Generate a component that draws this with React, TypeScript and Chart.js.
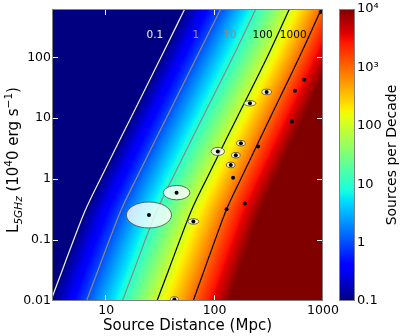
import React, { useEffect, useRef } from "react";
import { Chart, registerables } from "chart.js";

Chart.register(...registerables);

// ---------- axis ranges & ticks ----------
const xMin = 3.1623;
const xMax = 1000;
const yMin = 0.01;
const yMax = 620;
const cbMin = 0.1;
const cbMax = 10000;

const xTickValues = [10, 100, 1000];
const xTickLabels = ["10", "100", "1000"];
const yTickValues = [0.01, 0.1, 1, 10, 100];
const yTickLabels = ["0.01", "0.1", "1", "10", "100"];
const cbTickValues = [0.1, 1, 10, 100, 1000, 10000];
const cbTickLabels = ["0.1", "1", "10", "100", "10³", "10⁴"];

// ---------- contours (sources per decade) ----------
const contourLevels = [0.1, 1, 10, 100, 1000];
const contourLabels = ["0.1", "1", "10", "100", "1000"];
const contourLum = [0.01, 0.03, 0.1, 0.3, 1, 10, 100, 620];
const contourDist01 = [3.08, 3.88, 5.0, 6.37, 8.81, 16.8, 32.0, 53];
const contourDist1 = [6.58, 8.28, 10.7, 13.6, 18.8, 35.8, 68.2, 114];
const contourDist10 = [14.1, 17.8, 22.9, 29.2, 40.4, 76.9, 147, 240];
const contourDist100 = [29.4, 37.1, 47.8, 60.8, 84.1, 160, 305, 490];
const contourDist1000 = [63.4, 79.1, 101, 127, 174, 324, 604, 966];
const labelDist = [28.1, 67.2, 138, 277, 531];
const labelLum = [233, 233, 233, 233, 233];

// ---------- sources ----------
const srcDist = [24.8, 44.6, 63.7, 42.6, 107, 212, 302, 175, 157, 141, 148, 671, 551, 516, 252, 190, 129, 951];
const srcLum = [0.258, 0.6, 0.202, 0.0106, 2.85, 17.6, 27, 3.89, 2.47, 1.71, 1.05, 42.6, 28.1, 8.8, 3.42, 0.4, 0.32, 556];
const srcErrDistDex = [0.208, 0.123, 0.05, 0.037, 0.062, 0.055, 0.045, 0.04, 0.04, 0.04, 0, 0, 0, 0, 0, 0, 0, 0];
const srcErrLumDex = [0.213, 0.118, 0.045, 0.045, 0.066, 0.044, 0.045, 0.045, 0.045, 0.045, 0, 0, 0, 0, 0, 0, 0, 0];

const contourDists = [contourDist01, contourDist1, contourDist10, contourDist100, contourDist1000];
const contourColors = ["#f2f2f2", "#8a8a8a", "#8a8a8a", "#000000", "#000000"];
const labelColors = ["#f2f2f2", "#999999", "#8a8a8a", "#000000", "#000000"];

const FONT = "'DejaVu Sans', sans-serif";

// ---------- jet colormap ----------
const jetR = [[0, 0], [0.35, 0], [0.66, 1], [0.89, 1], [1, 0.5]];
const jetG = [[0, 0], [0.125, 0], [0.375, 1], [0.64, 1], [0.91, 0], [1, 0]];
const jetB = [[0, 0.5], [0.11, 1], [0.34, 1], [0.65, 0], [1, 0]];
function seg(pts: number[][], t: number) {
  for (let i = 0; i < pts.length - 1; i++) {
    if (t <= pts[i + 1][0]) {
      const [x0, y0] = pts[i];
      const [x1, y1] = pts[i + 1];
      return y0 + ((y1 - y0) * (t - x0)) / (x1 - x0);
    }
  }
  return pts[pts.length - 1][1];
}
function jet(t: number): [number, number, number] {
  const c = Math.max(0, Math.min(1, t));
  return [Math.round(seg(jetR, c) * 255), Math.round(seg(jetG, c) * 255), Math.round(seg(jetB, c) * 255)];
}

function interpLine(xs: number[], ys: number[], x: number) {
  const n = xs.length;
  const asc = xs[n - 1] > xs[0];
  let k = 0;
  for (k = 0; k < n - 2; k++) {
    if (asc ? x <= xs[k + 1] : x >= xs[k + 1]) break;
  }
  const t = (x - xs[k]) / (xs[k + 1] - xs[k]);
  return ys[k] + t * (ys[k + 1] - ys[k]);
}

// ---------- plugins ----------
const heatPlugin = {
  id: "heat",
  beforeDatasetsDraw(chart: any) {
    const { ctx, chartArea, scales } = chart;
    const xs = scales.x;
    const ys = scales.y;
    const left = Math.round(chartArea.left);
    const top = Math.round(chartArea.top);
    const w = Math.round(chartArea.right) - left;
    const h = Math.round(chartArea.bottom) - top;
    const img = ctx.createImageData(w, h);
    const logLum = contourLum.map(Math.log10);
    const curves = contourDists.map((a) => a.map(Math.log10));
    const lev = contourLevels.map(Math.log10);
    const colLogD: number[] = [];
    for (let i = 0; i < w; i++) colLogD.push(Math.log10(xs.getValueForPixel(left + i + 0.5)));
    for (let j = 0; j < h; j++) {
      const ll = Math.log10(ys.getValueForPixel(top + j + 0.5));
      const cross = curves.map((c) => interpLine(logLum, c, ll));
      for (let i = 0; i < w; i++) {
        const v = interpLine(cross, lev, colLogD[i]);
        const t = (v - Math.log10(cbMin)) / (Math.log10(cbMax) - Math.log10(cbMin));
        const [r, g, b] = jet(t);
        const p = (j * w + i) * 4;
        img.data[p] = r;
        img.data[p + 1] = g;
        img.data[p + 2] = b;
        img.data[p + 3] = 255;
      }
    }
    ctx.putImageData(img, left, top);
  },
  afterDatasetDraw(chart: any, args: any) {
    if (args.index !== 1) return;
    const { ctx, chartArea, scales } = chart;
    const xs = scales.x;
    const ys = scales.y;
    ctx.save();
    ctx.beginPath();
    ctx.rect(chartArea.left, chartArea.top, chartArea.right - chartArea.left, chartArea.bottom - chartArea.top);
    ctx.clip();
    for (let i = 0; i < srcDist.length; i++) {
      if (!srcErrDistDex[i]) continue;
      const cx = xs.getPixelForValue(srcDist[i]);
      const cy = ys.getPixelForValue(srcLum[i]);
      const rx = xs.getPixelForValue(srcDist[i] * Math.pow(10, srcErrDistDex[i])) - cx;
      const ry = cy - ys.getPixelForValue(srcLum[i] * Math.pow(10, srcErrLumDex[i]));
      ctx.beginPath();
      ctx.ellipse(cx, cy, rx, ry, 0, 0, Math.PI * 2);
      ctx.fillStyle = "rgba(255,255,255,0.8)";
      ctx.fill();
      ctx.lineWidth = 1;
      ctx.strokeStyle = "rgba(80,80,80,0.85)";
      ctx.stroke();
    }
    ctx.restore();
  },
  afterDatasetsDraw(chart: any) {
    const { ctx, chartArea, scales } = chart;
    const xs = scales.x;
    const ys = scales.y;
    const { left, right, top, bottom } = chartArea;
    // contour labels
    ctx.save();
    ctx.font = `10.5px ${FONT}`;
    ctx.textAlign = "center";
    ctx.textBaseline = "middle";
    for (let k = 0; k < contourLabels.length; k++) {
      ctx.fillStyle = labelColors[k];
      ctx.fillText(contourLabels[k], xs.getPixelForValue(labelDist[k]), ys.getPixelForValue(labelLum[k]));
    }
    // inward ticks
    ctx.strokeStyle = "rgba(255,255,255,0.95)";
    ctx.lineWidth = 1;
    const L = 6;
    ctx.beginPath();
    for (const v of xTickValues) {
      const px = Math.round(xs.getPixelForValue(v)) - 0.5;
      ctx.moveTo(px, bottom);
      ctx.lineTo(px, bottom - L);
      ctx.moveTo(px, top);
      ctx.lineTo(px, top + L);
    }
    for (const v of yTickValues) {
      const py = Math.round(ys.getPixelForValue(v)) + 0.5;
      ctx.moveTo(left, py);
      ctx.lineTo(left + L, py);
      ctx.moveTo(right, py);
      ctx.lineTo(right - L, py);
    }
    ctx.stroke();
    // spines
    ctx.strokeStyle = "#808080";
    ctx.strokeRect(left + 0.5, top + 0.5, right - left - 1, bottom - top - 1);
    ctx.restore();
  },
  afterDraw(chart: any) {
    const { ctx, chartArea, scales } = chart;
    const cb = scales.cb;
    ctx.save();
    // colorbar
    const x0 = 339;
    const x1 = 355;
    const grad = ctx.createLinearGradient(0, cb.bottom, 0, cb.top);
    for (let i = 0; i <= 60; i++) {
      const t = i / 60;
      const [r, g, b] = jet(t);
      grad.addColorStop(t, `rgb(${r},${g},${b})`);
    }
    ctx.fillStyle = grad;
    ctx.fillRect(x0, cb.top, x1 - x0, cb.bottom - cb.top);
    ctx.strokeStyle = "#808080";
    ctx.lineWidth = 1;
    ctx.strokeRect(x0 + 0.5, cb.top + 0.5, x1 - x0 - 1, cb.bottom - cb.top - 1);
    ctx.fillStyle = "#000";
    ctx.font = `13px ${FONT}`;
    ctx.textAlign = "left";
    ctx.textBaseline = "middle";
    for (let i = 0; i < cbTickValues.length; i++) {
      ctx.fillText(cbTickLabels[i], x1 + 2, cb.getPixelForValue(cbTickValues[i]));
    }
    // colorbar title
    ctx.save();
    ctx.translate(395.5, (cb.top + cb.bottom) / 2);
    ctx.rotate(-Math.PI / 2);
    ctx.font = `14px ${FONT}`;
    ctx.textAlign = "center";
    ctx.textBaseline = "alphabetic";
    ctx.fillText("Sources per Decade", 0, 0);
    ctx.restore();

    // x title
    ctx.font = `15px ${FONT}`;
    ctx.textAlign = "center";
    ctx.textBaseline = "alphabetic";
    ctx.fillText("Source Distance (Mpc)", (chartArea.left + chartArea.right) / 2, 329.5);

    // y title with sub/superscripts
    const parts = [
      { t: "L", s: 15, it: false, dy: 0 },
      { t: "5GHz", s: 10.5, it: true, dy: 3.5 },
      { t: " (10", s: 15, it: false, dy: 0 },
      { t: "4", s: 10.5, it: false, dy: -6 },
      { t: "0 erg s", s: 15, it: false, dy: 0 },
      { t: "\u22121", s: 10.5, it: false, dy: -6 },
      { t: ")", s: 15, it: false, dy: 0 },
    ];
    let total = 0;
    const widths = parts.map((p) => {
      ctx.font = `${p.it ? "italic " : ""}${p.s}px ${FONT}`;
      const wd = ctx.measureText(p.t).width;
      total += wd;
      return wd;
    });
    ctx.save();
    ctx.translate(18, 160);
    ctx.rotate(-Math.PI / 2);
    ctx.textAlign = "left";
    let cx = -total / 2;
    parts.forEach((p, i) => {
      ctx.font = `${p.it ? "italic " : ""}${p.s}px ${FONT}`;
      ctx.fillText(p.t, cx, p.dy);
      cx += widths[i];
    });
    ctx.restore();
    ctx.restore();
  },
};

export default function App() {
  const ref = useRef<HTMLCanvasElement>(null);
  useEffect(() => {
    const canvas = ref.current;
    if (!canvas) return;
    const datasets: any[] = [
      {
        label: "sources",
        data: srcDist.map((d, i) => ({ x: d, y: srcLum[i] })),
        showLine: false,
        pointRadius: 2,
        pointBorderWidth: 0,
        pointBackgroundColor: "#000",
        backgroundColor: "#000",
        borderColor: "#000",
      },
      ...contourDists.map((arr, k) => ({
        label: contourLabels[k],
        data: arr.map((d, i) => ({ x: d, y: contourLum[i] })),
        showLine: true,
        borderColor: contourColors[k],
        borderWidth: 1.2,
        pointRadius: 0,
        cubicInterpolationMode: "monotone",
        fill: false,
      })),
    ];
    const chart = new Chart(canvas, {
      type: "scatter",
      data: { datasets },
      options: {
        animation: false,
        responsive: false,
        devicePixelRatio: 1,
        events: [],
        layout: { padding: { left: 0, top: 9, right: 80, bottom: 0 } },
        plugins: { legend: { display: false }, tooltip: { enabled: false } },
        scales: {
          x: {
            type: "logarithmic",
            position: "bottom",
            min: xMin,
            max: xMax,
            grid: { display: false, drawTicks: false },
            border: { display: false },
            afterBuildTicks: (s: any) => {
              s.ticks = xTickValues.map((v) => ({ value: v }));
            },
            afterFit: (s: any) => {
              s.height = 35;
            },
            ticks: {
              autoSkip: false,
              maxRotation: 0,
              padding: 2,
              color: "#000",
              font: { family: FONT, size: 12.5 },
              callback: (_v: any, i: number) => xTickLabels[i],
            },
          },
          y: {
            type: "logarithmic",
            position: "left",
            min: yMin,
            max: yMax,
            grid: { display: false, drawTicks: false },
            border: { display: false },
            afterBuildTicks: (s: any) => {
              s.ticks = yTickValues.map((v) => ({ value: v }));
            },
            afterFit: (s: any) => {
              s.width = 52;
            },
            ticks: {
              autoSkip: false,
              padding: 1,
              color: "#000",
              font: { family: FONT, size: 12.5 },
              callback: (_v: any, i: number) => yTickLabels[i],
            },
          },
          cb: {
            type: "logarithmic",
            position: "right",
            display: false,
            min: cbMin,
            max: cbMax,
          },
        },
      } as any,
      plugins: [heatPlugin],
    });
    return () => chart.destroy();
  }, []);
  return (
    <div style={{ position: "fixed", left: 0, top: 0, width: 403, height: 336, background: "#fff" }}>
      <canvas ref={ref} width={403} height={336} style={{ display: "block", width: 403, height: 336 }} />
    </div>
  );
}
